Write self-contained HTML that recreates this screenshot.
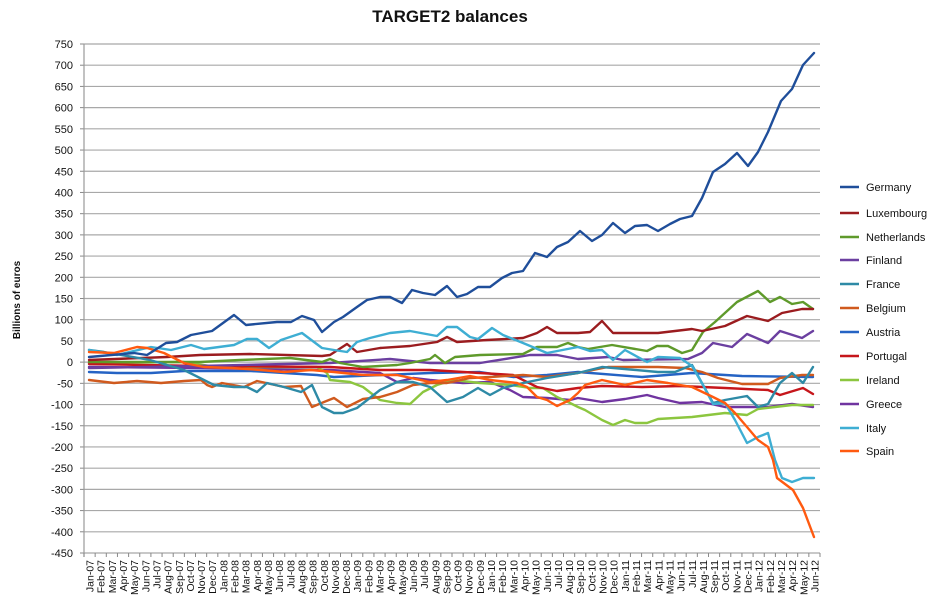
<!DOCTYPE html>
<html><head><meta charset="utf-8"><style>
html,body{margin:0;padding:0;background:#fff;}
svg{display:block;font-family:"Liberation Sans",sans-serif;}
</style></head><body>
<svg id="s" width="945" height="611" viewBox="0 0 945 611" xmlns="http://www.w3.org/2000/svg">
<text x="450" y="22" text-anchor="middle" font-size="17" font-weight="bold" fill="#111">TARGET2 balances</text>
<text transform="translate(20,300) rotate(-90)" text-anchor="middle" font-size="10" font-weight="bold" fill="#111">Billions of euros</text>
<g id="grid"></g>
<g fill="none" stroke-width="2.4" stroke-linejoin="round" stroke-linecap="round">
<polyline stroke="#2563c4" points="89,372 117,373 151,373 184,371 251,371 317,375 334,377 430,373 480,372 513,377 547,375 578,372 642,377 692,373 742,376 813,377"/>
<polyline stroke="#7034a0" points="89,367 200,368 317,370 330,370 380,373 397,382 413,378 430,380 463,383 490,382 510,390 523,397 547,398 570,400 578,398 602,402 625,399 647,395 658,398 680,403 702,402 725,407 747,407 768,407 792,404 813,407"/>
<polyline stroke="#8cc63f" points="89,363 184,362 217,367 317,367 327,373 330,380 350,382 363,387 380,400 397,403 410,404 423,392 437,385 453,380 480,383 510,385 530,388 543,388 557,397 570,403 578,407 585,410 602,420 613,425 625,420 635,423 647,423 658,419 692,417 725,413 747,415 758,409 775,407 792,405 813,405"/>
<polyline stroke="#c6161b" points="89,364 200,366 330,367 380,370 430,370 480,373 513,375 537,387 557,391 578,388 602,386 642,387 680,386 725,388 768,390 780,395 803,388 813,394"/>
<polyline stroke="#d05a1e" points="89,380 114,383 137,381 161,383 184,381 201,380 207,385 212,387 222,383 244,387 257,381 284,387 301,386 312,407 324,402 334,398 347,407 363,399 380,397 397,392 413,385 430,383 447,383 470,378 490,377 523,375 547,377 578,373 608,367 658,367 685,368 702,372 718,378 742,384 768,384 780,378 802,375 813,375"/>
<polyline stroke="#6b3fa0" points="89,368 200,366 330,363 390,359 430,363 480,363 530,355 557,355 578,359 608,357 623,360 688,359 702,353 713,343 732,347 747,334 768,343 780,331 802,338 813,331"/>
<polyline stroke="#5f9a2b" points="89,362 200,362 240,360 290,358 322,362 330,359 340,363 363,367 397,365 410,363 430,359 435,355 445,363 455,357 480,355 523,354 537,347 557,347 568,343 578,347 588,349 612,345 647,351 657,346 668,346 682,353 692,350 703,332 715,322 737,302 758,291 770,302 780,297 792,304 803,302 813,309"/>
<polyline stroke="#9b1c1f" points="89,360 167,357 200,355 250,354 322,356 330,355 347,344 357,352 380,348 410,346 437,342 447,337 457,342 487,340 523,338 537,333 547,327 557,333 578,333 590,332 602,321 613,333 658,333 692,329 702,331 725,326 747,316 768,321 782,313 802,309 813,309"/>
<polyline stroke="#2e8aa6" points="89,350 104,352 150,360 184,370 214,385 234,387 247,387 257,392 267,383 284,387 301,392 312,385 322,407 334,413 343,413 357,408 380,390 397,382 413,382 430,387 447,402 463,397 478,388 490,395 503,388 523,383 547,378 578,373 602,367 658,372 675,372 692,365 713,403 725,400 747,396 758,407 768,404 780,383 792,373 803,383 813,367"/>
<polyline stroke="#3eaed3" points="89,350 117,355 151,347 171,350 191,345 204,349 234,345 247,339 257,339 269,348 281,340 302,333 322,348 334,350 347,352 357,342 370,338 390,333 410,331 437,336 447,327 457,327 470,337 478,339 492,328 503,335 523,343 547,353 578,347 590,351 602,350 613,360 625,350 647,362 658,357 680,358 692,366 703,385 713,404 725,403 735,420 747,443 758,437 768,433 775,460 782,478 792,482 803,478 814,478"/>
<polyline stroke="#ff5a10" points="89,352 114,353 137,347 147,348 164,353 184,363 204,367 231,368 261,370 284,372 311,370 334,372 363,375 397,375 430,382 447,380 470,376 490,380 517,383 527,387 537,397 547,400 557,406 570,400 578,393 585,385 602,380 625,385 647,380 668,383 692,387 713,397 725,403 735,413 747,427 758,440 768,447 773,460 777,478 793,490 803,508 814,537"/>
<polyline stroke="#1f4e9a" points="89,357 134,353 147,355 166,343 177,342 191,335 212,331 234,315 246,325 277,322 291,322 302,316 314,320 322,332 334,322 343,317 357,307 367,300 380,297 390,297 402,303 412,290 423,293 435,295 447,286 457,297 467,294 478,287 490,287 502,278 512,273 523,271 535,253 547,257 557,247 568,242 580,231 592,241 602,235 613,223 625,233 635,226 647,225 658,231 670,224 680,219 692,216 702,198 713,172 725,164 737,153 748,166 758,152 768,132 781,101 792,89 803,65 814,53"/>
</g>
<g id="leg" font-size="11" fill="#111"></g>
</svg>
<script>
var NS="http://www.w3.org/2000/svg",g=document.getElementById("grid");
function el(t,a,p,txt){var e=document.createElementNS(NS,t);for(var k in a)e.setAttribute(k,a[k]);if(txt!=null)e.textContent=txt;(p||g).appendChild(e);return e;}
var y0=44,y1=553;
for(var v=750;v>=-450;v-=50){var y=y0+(750-v)*(y1-y0)/1200;
el("line",{x1:84,x2:820,y1:y,y2:y,stroke:"#a8a8a8","stroke-width":1.2},g);
el("line",{x1:80,x2:84,y1:y,y2:y,stroke:"#888"},g);
el("text",{x:73,y:y+4,"text-anchor":"end","font-size":11,fill:"#111"},g,String(v));}
el("line",{x1:84,x2:84,y1:44,y2:557,stroke:"#999","stroke-width":1.2},g);
var m=["Jan","Feb","Mar","Apr","May","Jun","Jul","Aug","Sep","Oct","Nov","Dec"],w=736/66;
for(var i=0;i<=66;i++){var x=84+w*i;el("line",{x1:x,x2:x,y1:553,y2:557,stroke:"#888"},g);}
for(var i=0;i<66;i++){var x=84+w*(i+0.5)+4,yr=7+Math.floor(i/12);
el("text",{transform:"translate("+x+",560) rotate(-90)","text-anchor":"end","font-size":10.5,fill:"#111"},g,m[i%12]+"-"+(yr<10?"0":"")+yr);}
var L=[["Germany","#1f4e9a",187],["Luxembourg","#9b1c1f",213],["Netherlands","#5f9a2b",237],["Finland","#6b3fa0",260],["France","#2e8aa6",284],["Belgium","#d05a1e",308],["Austria","#2563c4",332],["Portugal","#c6161b",356],["Ireland","#8cc63f",380],["Greece","#7034a0",404],["Italy","#3eaed3",428],["Spain","#ff5a10",451]];
var lg=document.getElementById("leg");
L.forEach(function(l){el("line",{x1:840,x2:859,y1:l[2],y2:l[2],stroke:l[1],"stroke-width":2.6},lg);el("text",{x:866,y:l[2]+4},lg,l[0]);});
</script>
</body></html>
